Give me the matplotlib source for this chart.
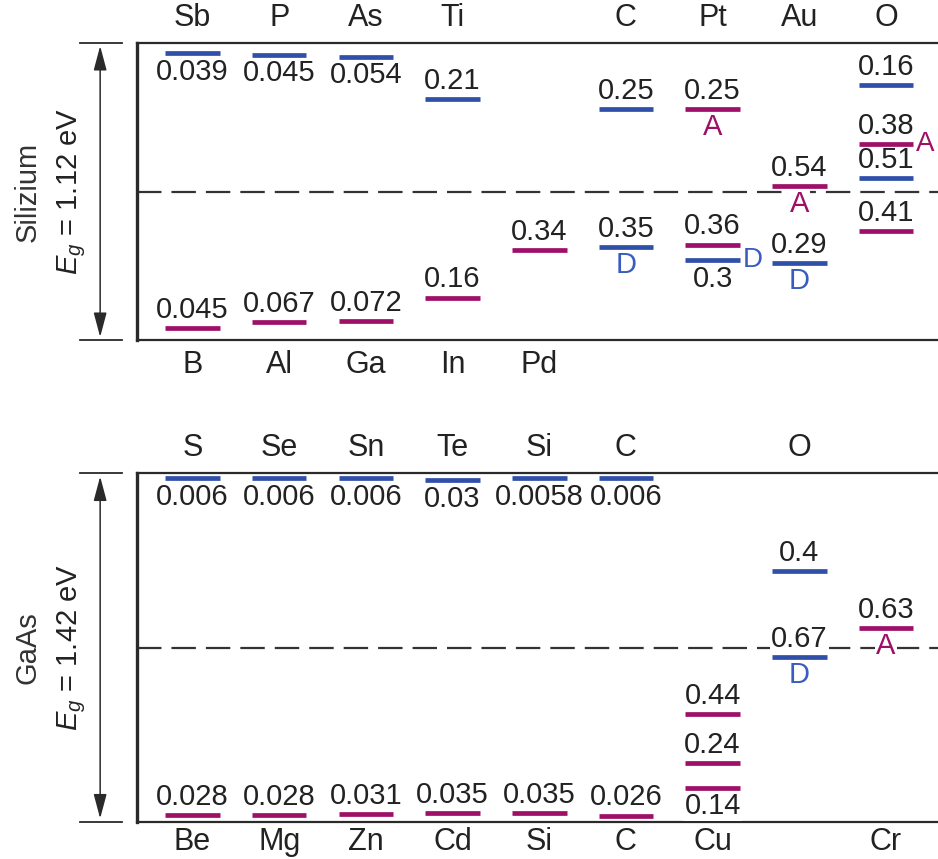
import matplotlib
matplotlib.use('Agg')
import matplotlib.pyplot as plt

plt.rcParams['font.family'] = ['Liberation Sans', 'DejaVu Sans']
plt.rcParams['mathtext.fontset'] = 'custom'
plt.rcParams['mathtext.rm'] = 'Liberation Sans'
plt.rcParams['mathtext.it'] = 'Liberation Sans:italic'

# ---------------- Silicon data ----------------
si_gap = 1.12
si_material = 'Silizium'
si_top_names = ['Sb', 'P', 'As', 'Ti', '', 'C', 'Pt', 'Au', 'O']
si_bottom_names = ['B', 'Al', 'Ga', 'In', 'Pd', '', '', '', '']
si_col = [0, 1, 2, 3, 5, 5, 6, 6, 6, 7, 7, 8, 8, 8, 8, 0, 1, 2, 3, 4]
si_energy = [0.039, 0.045, 0.054, 0.21, 0.25, 0.35, 0.25, 0.36, 0.3, 0.54,
             0.29, 0.16, 0.38, 0.51, 0.41, 0.045, 0.067, 0.072, 0.16, 0.34]
si_edge = ['c', 'c', 'c', 'c', 'c', 'v', 'c', 'v', 'v', 'c',
           'v', 'c', 'c', 'c', 'v', 'v', 'v', 'v', 'v', 'v']
si_kind = ['d', 'd', 'd', 'd', 'd', 'd', 'a', 'a', 'd', 'a',
           'd', 'd', 'a', 'd', 'a', 'a', 'a', 'a', 'a', 'a']
si_tag = ['', '', '', '', '', 'D', 'A', '', 'D', 'A',
          'D', '', 'A', '', '', '', '', '', '', '']
si_label_pos = ['below', 'below', 'below', 'above', 'above', 'above', 'above', 'above', 'below', 'above',
                'above', 'above', 'above', 'above', 'above', 'above', 'above', 'above', 'above', 'above']
si_tag_pos = ['', '', '', '', '', 'below', 'below', '', 'right', 'below',
              'below', '', 'right', '', '', '', '', '', '', '']

# ---------------- GaAs data ----------------
gaas_gap = 1.42
gaas_material = 'GaAs'
gaas_top_names = ['S', 'Se', 'Sn', 'Te', 'Si', 'C', '', 'O', '']
gaas_bottom_names = ['Be', 'Mg', 'Zn', 'Cd', 'Si', 'C', 'Cu', '', 'Cr']
gaas_col = [0, 1, 2, 3, 4, 5, 7, 7, 8, 0, 1, 2, 3, 4, 5, 6, 6, 6]
gaas_energy = [0.006, 0.006, 0.006, 0.03, 0.0058, 0.006, 0.4, 0.67, 0.63,
               0.028, 0.028, 0.031, 0.035, 0.035, 0.026, 0.44, 0.24, 0.14]
gaas_edge = ['c', 'c', 'c', 'c', 'c', 'c', 'c', 'v', 'c',
             'v', 'v', 'v', 'v', 'v', 'v', 'v', 'v', 'v']
gaas_kind = ['d', 'd', 'd', 'd', 'd', 'd', 'd', 'd', 'a',
             'a', 'a', 'a', 'a', 'a', 'a', 'a', 'a', 'a']
gaas_tag = ['', '', '', '', '', '', '', 'D', 'A',
            '', '', '', '', '', '', '', '', '']
gaas_label_pos = ['below', 'below', 'below', 'below', 'below', 'below', 'above', 'above', 'above',
                  'above', 'above', 'above', 'above', 'above', 'above', 'above', 'above', 'below']
gaas_tag_pos = ['', '', '', '', '', '', '', 'below', 'below',
                '', '', '', '', '', '', '', '', '']

# ---------------- style ----------------
BLUE = '#2f4fa8'
MAGENTA = '#9e0f68'
TAGBLUE = '#3a5cc0'
DARK = '#2a2a2a'
NUM_FS = 21
NAME_FS = 22
SIDE_FS = 21
HALF_W = 0.315
MIN_CLEAR = 0.022
XMIN, XMAX = -0.64, 8.6

fig = plt.figure(figsize=(9.38, 8.59), dpi=100)
W, H = 938.0, 859.0
ax_si = fig.add_axes([137 / W, 1 - 340 / H, 1 - 137 / W, 297 / H])
ax_ga = fig.add_axes([137 / W, 1 - 822 / H, 1 - 137 / W, 349 / H])


def draw_panel(ax, gap, material, top_names, bottom_names, cols, energies,
               edges, kinds, tags, label_pos, tag_pos, bottom_offset):
    ax.set_xlim(XMIN, XMAX)
    ax.set_ylim(0, gap)
    ax.set_xticks([])
    ax.set_yticks([])
    ax.spines['right'].set_visible(False)
    ax.spines['left'].set_linewidth(2.4)
    ax.spines['top'].set_linewidth(1.6)
    ax.spines['bottom'].set_linewidth(1.6)
    for s in ('left', 'top', 'bottom'):
        ax.spines[s].set_color(DARK)

    # midgap dashed line
    ax.axhline(gap / 2, color='#333333', lw=1.6, dashes=(11, 4.5), zorder=1)

    # element names
    for i, n in enumerate(top_names):
        if n:
            ax.annotate(n, (i, gap), xytext=(0, 7), textcoords='offset points',
                        ha='center', va='bottom', fontsize=NAME_FS, color='#222222',
                        annotation_clip=False)
    for i, n in enumerate(bottom_names):
        if n:
            ax.annotate(n, (i, 0), xytext=(0, -bottom_offset), textcoords='offset points',
                        ha='center', va='top', fontsize=NAME_FS, color='#222222',
                        annotation_clip=False)

    # levels
    for c, e, ed, k, t, lp, tp in zip(cols, energies, edges, kinds, tags,
                                      label_pos, tag_pos):
        d = max(e, MIN_CLEAR)
        y = gap - d if ed == 'c' else d
        col = BLUE if k == 'd' else MAGENTA
        ax.hlines(y, c - HALF_W, c + HALF_W, color=col, lw=3.4, zorder=4)
        if lp == 'above':
            ax.annotate(str(e), (c, y), xytext=(0, 3), textcoords='offset points',
                        ha='center', va='bottom', fontsize=NUM_FS, color='#222222',
                        zorder=3,
                        bbox=dict(boxstyle='square,pad=0.05', fc='white', ec='none'))
        else:
            ax.annotate(str(e), (c, y), xytext=(0, -3), textcoords='offset points',
                        ha='center', va='top', fontsize=NUM_FS, color='#222222',
                        zorder=3,
                        bbox=dict(boxstyle='square,pad=0.05', fc='white', ec='none'))
        if t:
            tcol = TAGBLUE if t == 'D' else MAGENTA
            if tp == 'below':
                ax.annotate(t, (c, y), xytext=(0, -3), textcoords='offset points',
                            ha='center', va='top', fontsize=NUM_FS, color=tcol,
                            zorder=3, annotation_clip=False,
                            bbox=dict(boxstyle='square,pad=0.05', fc='white', ec='none'))
            else:
                ax.annotate(t, (c + HALF_W, y), xytext=(2.0, 0), textcoords='offset points',
                            ha='left', va='center', fontsize=NUM_FS - 1, color=tcol,
                            zorder=3, annotation_clip=False)

    # left gap annotation
    ax_x = -0.046
    ax.annotate('', xy=(ax_x, 0.99), xytext=(ax_x, 0.01), xycoords='axes fraction',
                arrowprops=dict(arrowstyle='<|-|>,head_length=0.75,head_width=0.2',
                                mutation_scale=20, lw=1.1, color=DARK,
                                shrinkA=0, shrinkB=0),
                annotation_clip=False)
    for yy in (0, 1):
        ax.plot([-0.071, -0.019], [yy, yy], transform=ax.transAxes,
                clip_on=False, color=DARK, lw=1.3)
    ax.text(-0.081, 0.5, r'$E_g$ = %.2f eV' % gap, transform=ax.transAxes,
            rotation=90, ha='center', va='center', fontsize=SIDE_FS, color='#222222')
    ax.text(-0.137, 0.5, material, transform=ax.transAxes,
            rotation=90, ha='center', va='center', fontsize=SIDE_FS, color='#333333')


draw_panel(ax_si, si_gap, si_material, si_top_names, si_bottom_names, si_col,
           si_energy, si_edge, si_kind, si_tag, si_label_pos, si_tag_pos, 7)
draw_panel(ax_ga, gaas_gap, gaas_material, gaas_top_names, gaas_bottom_names,
           gaas_col, gaas_energy, gaas_edge, gaas_kind, gaas_tag, gaas_label_pos,
           gaas_tag_pos, 3.5)

fig.savefig('out.png', dpi=100, facecolor='white')
